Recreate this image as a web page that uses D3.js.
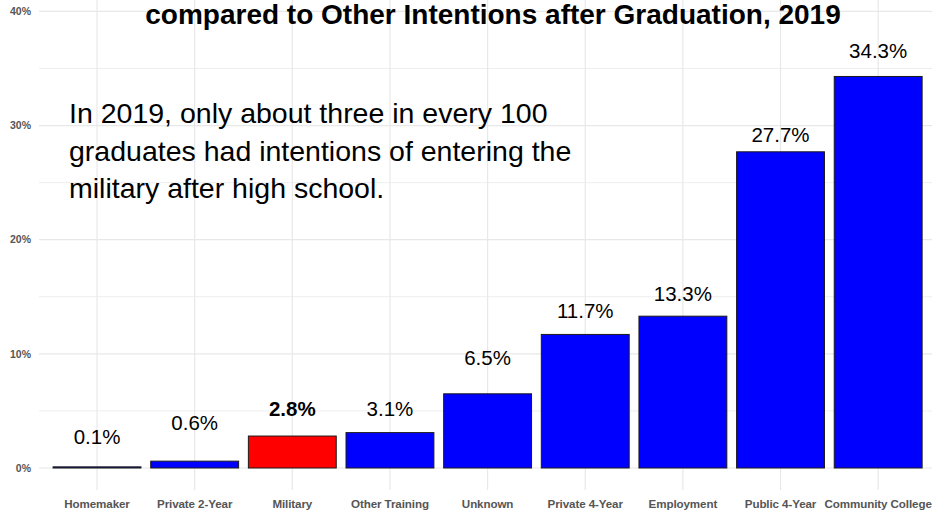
<!DOCTYPE html>
<html>
<head>
<meta charset="utf-8">
<script src="https://cdn.jsdelivr.net/npm/d3@7"></script>
<style>
  body { margin: 0; background: #fff; }
  text { font-family: "Liberation Sans", Arial, Helvetica, sans-serif; }
</style>
</head>
<body>
<div id="chart"></div>
<script>
// Data
let categories = ["Homemaker", "Private 2-Year", "Military", "Other Training", "Unknown",
                  "Private 4-Year", "Employment", "Public 4-Year", "Community College"];
let percents = [0.1, 0.6, 2.8, 3.1, 6.5, 11.7, 13.3, 27.7, 34.3];
// height (in %) where each value label sits, as placed in the original
let labelAt = [2.1, 3.3, 4.55, 4.55, 9.0, 13.1, 14.6, 28.6, 35.9];
let majorTicks = [0, 10, 20, 30, 40];
let minorTicks = [5, 15, 25, 35];
let highlight = "Military";

let svgWidth = 932;
let svgHeight = 515;

let svg = d3.select("#chart")
  .append("svg")
  .attr("width", svgWidth)
  .attr("height", svgHeight);

// scales
let xScale = d3.scaleBand()
  .domain(categories)
  .range([48.2, 927])
  .paddingInner(0.1)
  .paddingOuter(0.05);

let yScale = d3.scaleLinear()
  .domain([0, 40])
  .range([468, 11.4]);

let panelLeft = 39, panelRight = svgWidth, panelBottom = 490;

// grid
let grid = svg.append("g");
grid.selectAll(".minor")
  .data(minorTicks)
  .enter().append("line")
  .attr("x1", panelLeft).attr("x2", panelRight)
  .attr("y1", d => yScale(d)).attr("y2", d => yScale(d))
  .attr("stroke", "#eeeeee").attr("stroke-width", 1);
grid.selectAll(".major")
  .data(majorTicks)
  .enter().append("line")
  .attr("x1", panelLeft).attr("x2", panelRight)
  .attr("y1", d => yScale(d)).attr("y2", d => yScale(d))
  .attr("stroke", "#e8e8e8").attr("stroke-width", 1.2);
grid.selectAll(".vert")
  .data(categories)
  .enter().append("line")
  .attr("x1", d => xScale(d) + xScale.bandwidth() / 2)
  .attr("x2", d => xScale(d) + xScale.bandwidth() / 2)
  .attr("y1", 0).attr("y2", panelBottom)
  .attr("stroke", "#e8e8e8").attr("stroke-width", 1.2);

// y tick labels
svg.selectAll(".ylab")
  .data(majorTicks)
  .enter().append("text")
  .attr("x", 31)
  .attr("y", d => yScale(d))
  .attr("dy", "0.35em")
  .attr("text-anchor", "end")
  .attr("font-size", 10.5)
  .attr("font-weight", "bold")
  .attr("fill", "#555")
  .text(d => d + "%");

// bars
svg.selectAll("rect")
  .data(percents)
  .enter().append("rect")
  .attr("x", (d, i) => xScale(categories[i]))
  .attr("y", d => yScale(d))
  .attr("width", xScale.bandwidth())
  .attr("height", d => yScale(0) - yScale(d))
  .attr("fill", (d, i) => categories[i] === highlight ? "#ff0000" : "#0000ff")
  .attr("stroke", "#1a1a1a")
  .attr("stroke-width", 1);

// value labels
svg.selectAll(".val")
  .data(percents)
  .enter().append("text")
  .attr("x", (d, i) => xScale(categories[i]) + xScale.bandwidth() / 2)
  .attr("y", (d, i) => yScale(labelAt[i]))
  .attr("text-anchor", "middle")
  .attr("font-size", 20.5)
  .attr("font-weight", (d, i) => categories[i] === highlight ? "bold" : "normal")
  .attr("fill", "#000")
  .text(d => d.toFixed(1) + "%");

// x labels
svg.selectAll(".xlab")
  .data(categories)
  .enter().append("text")
  .attr("x", d => xScale(d) + xScale.bandwidth() / 2)
  .attr("y", 508)
  .attr("text-anchor", "middle")
  .attr("font-size", 11.6)
  .attr("font-weight", "bold")
  .attr("fill", "#555")
  .attr("letter-spacing", -0.1)
  .text(d => d);

// title (second line, the first is outside the frame)
svg.append("text")
  .attr("x", 493)
  .attr("y", 24)
  .attr("text-anchor", "middle")
  .attr("font-size", 28)
  .attr("font-weight", "bold")
  .text("compared to Other Intentions after Graduation, 2019");

// annotation
let note = ["In 2019, only about three in every 100",
            "graduates had intentions of entering the",
            "military after high school."];
svg.append("text")
  .attr("font-size", 28.5)
  .attr("fill", "#000")
  .selectAll("tspan")
  .data(note)
  .enter().append("tspan")
  .attr("x", 69)
  .attr("y", (d, i) => 123 + i * 37.5)
  .text(d => d);
</script>
</body>
</html>
